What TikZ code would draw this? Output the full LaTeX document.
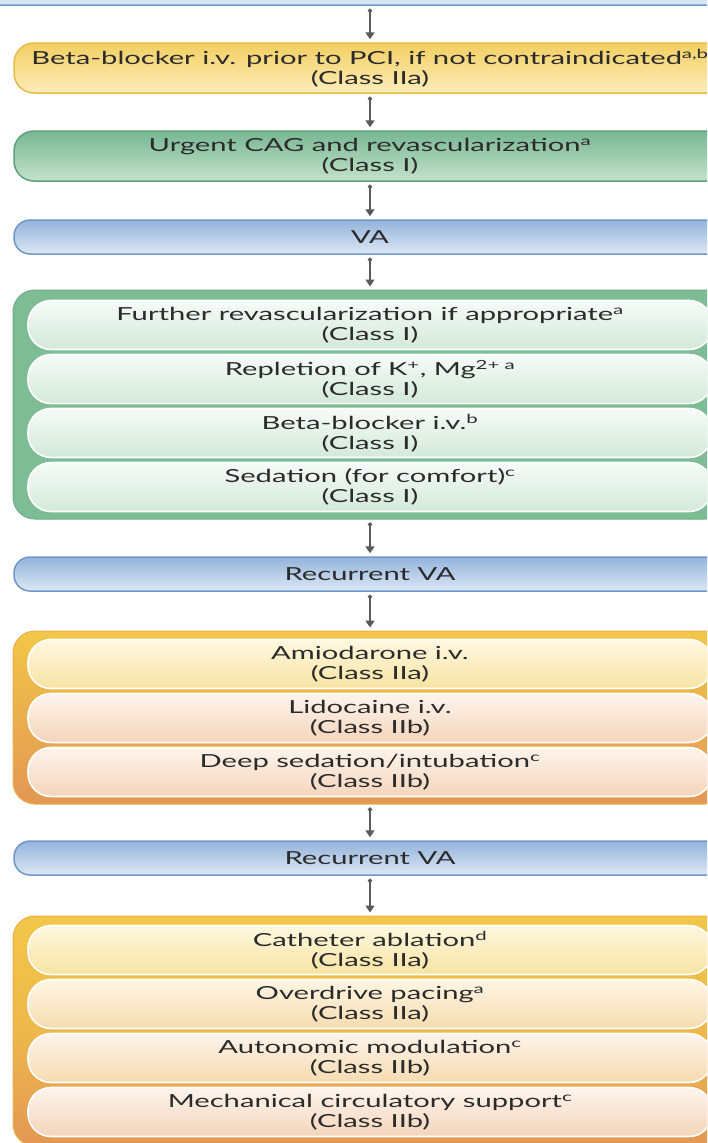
\documentclass[tikz,border=0pt]{standalone}
\usepackage{fontspec}
\setmainfont{Lato}[FakeStretch=1.62]
\usetikzlibrary{arrows.meta}

\definecolor{txt}{HTML}{2B2B2B}
\definecolor{arrowgray}{HTML}{5A5A5A}
\definecolor{blueedge}{HTML}{7097C8}
\definecolor{bluetop}{HTML}{93B3DB}
\definecolor{bluebot}{HTML}{DDE8F5}
\definecolor{yelledge}{HTML}{E6BC48}
\definecolor{yelltop}{HTML}{F3CF63}
\definecolor{yellbot}{HTML}{FCEDB9}
\definecolor{greenedge}{HTML}{5FA07A}
\definecolor{greentop}{HTML}{78B792}
\definecolor{greenbot}{HTML}{C4E2CC}
\definecolor{grpgreen}{HTML}{7DBC95}
\definecolor{grpgreenedge}{HTML}{6AAE85}
\definecolor{mintop}{HTML}{F6FBF7}
\definecolor{minbot}{HTML}{D3E9D9}
\definecolor{grpyell}{HTML}{F2C748}
\definecolor{grpmid}{HTML}{EAAE4E}
\definecolor{grporange}{HTML}{E39754}
\definecolor{creamtop}{HTML}{FFF8E0}
\definecolor{creambot}{HTML}{F7E3A2}
\definecolor{peachtop}{HTML}{FEF4EC}
\definecolor{peachbot}{HTML}{F4D5BC}
\definecolor{sandtop}{HTML}{FFF6E4}
\definecolor{sandbot}{HTML}{F5DCB0}

\tikzset{
  every node/.style={font=\fontsize{18}{20}\selectfont, text=txt, align=center, inner sep=0pt},
  card/.style={rounded corners=20pt, line width=1.5pt, minimum width=712pt, minimum height=50pt},
  bluebox/.style={card, draw=blueedge, top color=bluetop, bottom color=bluebot, minimum height=34pt, rounded corners=16pt},
  yellowbox/.style={card, draw=yelledge, top color=yelltop, bottom color=yellbot},
  greenbox/.style={card, draw=greenedge, top color=greentop, bottom color=greenbot},
  group/.style={rounded corners=22pt, minimum width=714pt, line width=1pt},
  greengroup/.style={group, draw=grpgreenedge, fill=grpgreen},
  orangegroup/.style={group, draw=grpmid, top color=grpyell, bottom color=grporange, middle color=grpmid},
  item/.style={rounded corners=23pt, draw=white, line width=1.6pt, minimum width=684pt, minimum height=49pt},
  minty/.style={item, top color=mintop, bottom color=minbot},
  creamy/.style={item, top color=creamtop, bottom color=creambot},
  sandy/.style={item, top color=sandtop, bottom color=sandbot},
  peachy/.style={item, top color=peachtop, bottom color=peachbot},
  flow/.style={draw=arrowgray, line width=1.7pt,
    {Circle[length=4pt]}-{Triangle[length=7pt,width=9pt]},
    shorten <=3pt, shorten >=3pt},
}

\begin{document}
\begin{tikzpicture}[x=1pt,y=-1pt]
\useasboundingbox (0,0) rectangle (707,1143);
\clip (0,0) rectangle (707,1143);
\fill[white] (0,0) rectangle (707,1143);

% entry box, only its lower edge lies inside the page
\node[bluebox, minimum width=780pt, minimum height=40pt] (entry) at (370,-15) {};

\node[yellowbox] (preBB) at (370,68)
  {Beta-blocker i.v. prior to PCI, if not contraindicated\textsuperscript{a,b}\\(Class IIa)};
\node[greenbox] (cag) at (370,156)
  {Urgent CAG and revascularization\textsuperscript{a}\\(Class I)};
\node[bluebox] (va) at (370,237) {VA};

% first treatment block
\node[greengroup, minimum height=229pt] (blockA) at (370,404.5) {};
\node[minty] (revasc) at (370,325) {Further revascularization if appropriate\textsuperscript{a}\\(Class I)};
\node[minty] (electro) at (370,379) {Repletion of K\textsuperscript{+}, Mg\textsuperscript{2+ a}\\(Class I)};
\node[minty] (bblock) at (370,433) {Beta-blocker i.v.\textsuperscript{b}\\(Class I)};
\node[minty] (sedate) at (370,487) {Sedation (for comfort)\textsuperscript{c}\\(Class I)};

\node[bluebox] (rvaA) at (370,574) {Recurrent VA};

% second treatment block
\node[orangegroup, minimum height=173pt] (blockB) at (370,717.5) {};
\node[creamy] (amio) at (370,664) {Amiodarone i.v.\\(Class IIa)};
\node[peachy] (lido) at (370,718) {Lidocaine i.v.\\(Class IIb)};
\node[peachy] (deep) at (370,772) {Deep sedation/intubation\textsuperscript{c}\\(Class IIb)};

\node[bluebox] (rvaB) at (370,858) {Recurrent VA};

% third treatment block
\node[orangegroup, minimum height=230pt, middle color=grpmid!60!grpyell] (blockC) at (370,1031) {};
\node[creamy] (ablate) at (370,950) {Catheter ablation\textsuperscript{d}\\(Class IIa)};
\node[sandy] (pace) at (370,1004) {Overdrive pacing\textsuperscript{a}\\(Class IIa)};
\node[sandy, top color=peachtop] (auto) at (370,1058) {Autonomic modulation\textsuperscript{c}\\(Class IIb)};
\node[peachy] (mcs) at (370,1112) {Mechanical circulatory support\textsuperscript{c}\\(Class IIb)};

% connectors
\draw[flow] (entry.south) -- (preBB.north);
\draw[flow] (preBB.south) -- (cag.north);
\draw[flow] (cag.south) -- (va.north);
\draw[flow] (va.south) -- (blockA.north);
\draw[flow] (blockA.south) -- (rvaA.north);
\draw[flow] (rvaA.south) -- (blockB.north);
\draw[flow] (blockB.south) -- (rvaB.north);
\draw[flow] (rvaB.south) -- (blockC.north);
\end{tikzpicture}
\end{document}
